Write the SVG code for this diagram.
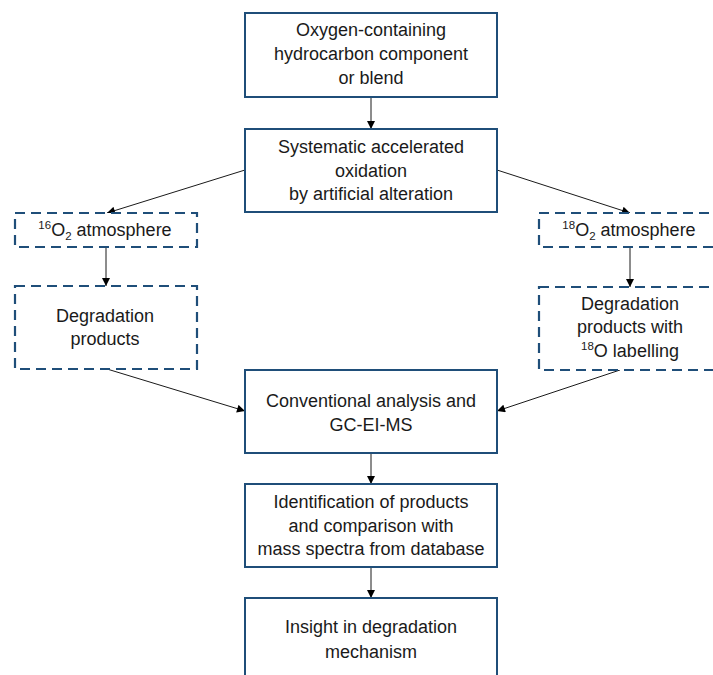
<svg xmlns="http://www.w3.org/2000/svg" width="713" height="675" viewBox="0 0 713 675">
<style>
.box{fill:#ffffff;stroke:#1f4e79;stroke-width:2}
.dash{fill:#ffffff;stroke:#1f4e79;stroke-width:2.2;stroke-dasharray:10 6}
.t{font-family:"Liberation Sans",Arial,sans-serif;font-size:18px;fill:#1a1a1a;text-anchor:middle}
.c{stroke:#1a1a1a;stroke-width:1;fill:none;marker-end:url(#ah)}
</style>
<defs>
<marker id="ah" viewBox="0 0 10 10" refX="10" refY="5" markerWidth="9" markerHeight="8" markerUnits="userSpaceOnUse" orient="auto">
<path d="M0,0 L10,5 L0,10 z" fill="#000"/>
</marker>
</defs>
<rect width="713" height="675" fill="#ffffff"/>
<g id="connectors">
<line class="c" x1="371" y1="97" x2="371" y2="129"/>
<line class="c" x1="245" y1="170" x2="107" y2="213"/>
<line class="c" x1="497" y1="170" x2="630" y2="213"/>
<line class="c" x1="106" y1="247" x2="106" y2="286"/>
<line class="c" x1="630" y1="247" x2="630" y2="287"/>
<line class="c" x1="107" y1="369" x2="245" y2="411"/>
<line class="c" x1="620" y1="370" x2="497" y2="411"/>
<line class="c" x1="371" y1="453" x2="371" y2="484"/>
<line class="c" x1="371" y1="567" x2="371" y2="598"/>
</g>
<g id="n1">
<rect class="box" x="245" y="13" width="252" height="84"/>
<text class="t" x="371" y="36">Oxygen-containing</text>
<text class="t" x="371" y="60">hydrocarbon component</text>
<text class="t" x="371" y="84">or blend</text>
</g>
<g id="n2">
<rect class="box" x="245" y="129" width="252" height="83"/>
<text class="t" x="371" y="153">Systematic accelerated</text>
<text class="t" x="371" y="177">oxidation</text>
<text class="t" x="371" y="200">by artificial alteration</text>
</g>
<g id="n3">
<rect class="dash" x="15" y="213" width="182" height="34"/>
<text class="t" x="105" y="236"><tspan font-size="11.5" dy="-7">16</tspan><tspan dy="7">O</tspan><tspan font-size="11.5" dy="4">2</tspan><tspan dy="-4"> atmosphere</tspan></text>
</g>
<g id="n4">
<rect class="dash" x="539" y="213" width="182" height="34"/>
<text class="t" x="629" y="236"><tspan font-size="11.5" dy="-7">18</tspan><tspan dy="7">O</tspan><tspan font-size="11.5" dy="4">2</tspan><tspan dy="-4"> atmosphere</tspan></text>
</g>
<g id="n5">
<rect class="dash" x="15" y="286" width="182" height="83"/>
<text class="t" x="105" y="322">Degradation</text>
<text class="t" x="105" y="345">products</text>
</g>
<g id="n6">
<rect class="dash" x="539" y="287" width="182" height="83"/>
<text class="t" x="630" y="310">Degradation</text>
<text class="t" x="630" y="333">products with</text>
<text class="t" x="630" y="357"><tspan font-size="11.5" dy="-7">18</tspan><tspan dy="7">O labelling</tspan></text>
</g>
<g id="n7">
<rect class="box" x="245" y="370" width="252" height="83"/>
<text class="t" x="371" y="407">Conventional analysis and</text>
<text class="t" x="371" y="431">GC-EI-MS</text>
</g>
<g id="n8">
<rect class="box" x="245" y="484" width="252" height="83"/>
<text class="t" x="371" y="508">Identification of products</text>
<text class="t" x="371" y="532">and comparison with</text>
<text class="t" x="371" y="555">mass spectra from database</text>
</g>
<g id="n9">
<rect class="box" x="245" y="598" width="252" height="90"/>
<text class="t" x="371" y="633">Insight in degradation</text>
<text class="t" x="371" y="658">mechanism</text>
</g>
</svg>
